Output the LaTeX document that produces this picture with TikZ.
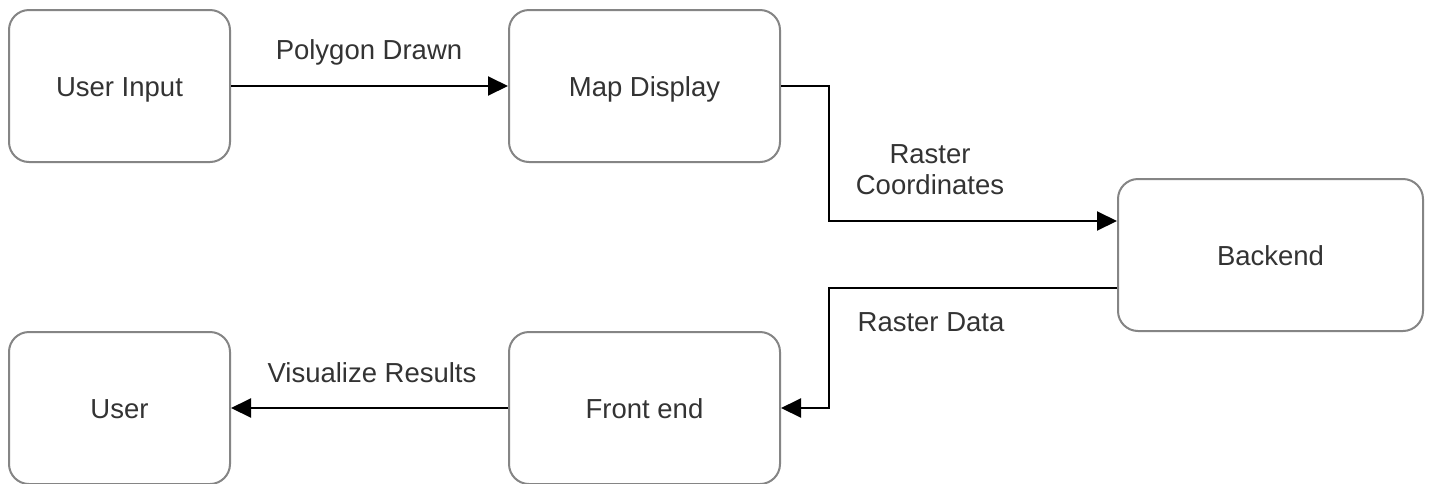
\documentclass[tikz,border=0pt]{standalone}
\usepackage{fontspec}
\setmainfont{Liberation Sans}
\usetikzlibrary{arrows.meta}
\definecolor{boxline}{HTML}{858585}
\definecolor{txt}{HTML}{333333}
\tikzset{
  procbox/.style={draw=boxline, line width=2pt, rounded corners=20pt, fill=white,
    text=txt, font=\fontsize{27.5}{33}\selectfont, inner sep=0pt, anchor=north west,
    text height=20pt, text depth=0pt},
  flow/.style={draw=black, line width=2pt, -{Triangle[length=20pt,width=19pt]}},
  lbl/.style={text=txt, font=\fontsize{27.5}{31}\selectfont, align=center, inner sep=0pt}
}
\begin{document}
\begin{tikzpicture}[x=1pt,y=-1pt]
  \useasboundingbox[fill=white] (0,0) rectangle (1430,483);

  % process boxes
  \node[procbox, minimum width=221pt, minimum height=152pt] (ui) at (8,9) {User Input};
  \node[procbox, minimum width=271pt, minimum height=152pt] (md) at (508,9) {Map Display};
  \node[procbox, minimum width=305pt, minimum height=152pt] (be) at (1117,178) {Backend};
  \node[procbox, minimum width=221pt, minimum height=152pt] (us) at (8,331) {User};
  \node[procbox, minimum width=271pt, minimum height=152pt] (fe) at (508,331) {Front end};

  % bend points and ports of the elbow connectors
  \coordinate (k1) at (md.east -| 829,0);
  \coordinate (bin) at (be.west |- 0,221);
  \coordinate (bout) at (be.west |- 0,288);
  \coordinate (k2) at (bout -| k1);

  % connectors
  \draw[flow] (ui.east) -- (md.west);
  \draw[flow] (md.east) -- (k1) |- (bin);
  \draw[flow] (bout) -- (k2) |- (fe.east);
  \draw[flow] (fe.west) -- (us.east);

  % connector labels
  \node[lbl] (l1) at (369,52) {Polygon Drawn};
  \node[lbl] (l2) at (930,170) {Raster\\Coordinates};
  \node[lbl] (l3) at (931,322) {Raster Data};
  \node[lbl] (l4) at (372,373) {Visualize Results};
\end{tikzpicture}
\end{document}
